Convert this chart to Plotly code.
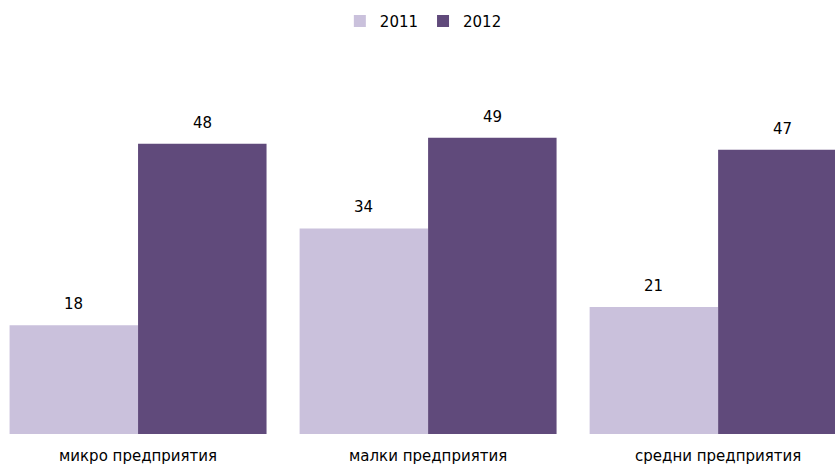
import plotly.graph_objects as go

categories = ["микро предприятия", "малки предприятия", "средни предприятия"]
years = ["2011", "2012"]
values_2011 = [18, 34, 21]
values_2012 = [48, 49, 47]
colors = {"2011": "#CAC1DC", "2012": "#604A7B"}

FONT = "DejaVu Sans"

fig = go.Figure()
for year, vals in zip(years, [values_2011, values_2012]):
    fig.add_trace(go.Bar(
        x=categories, y=vals, name=year,
        marker=dict(color=colors[year], line=dict(width=0)),
    ))

# value labels above each bar
bar_offset = 64.5
for year, vals, shift in zip(years, [values_2011, values_2012], [-bar_offset, bar_offset]):
    for cat, v in zip(categories, vals):
        fig.add_annotation(
            x=cat, y=v, text=str(v), showarrow=False,
            xshift=shift, yshift=10, yanchor="bottom",
            font=dict(family=FONT, size=15, color="#000000"),
        )

fig.update_layout(
    width=835, height=466,
    margin=dict(l=0, r=0, t=50, b=32),
    plot_bgcolor="white", paper_bgcolor="white",
    barmode="group", bargap=0.114, bargroupgap=0,
    font=dict(family=FONT, size=15, color="#000000"),
    legend=dict(
        orientation="h", x=0.507, xanchor="center",
        yref="container", y=0.99, yanchor="top",
        font=dict(family=FONT, size=15),
        itemwidth=30, traceorder="normal",
    ),
    xaxis=dict(
        range=[-0.476, 2.403], showgrid=False, showline=False,
        ticks="outside", ticklen=8, tickcolor="rgba(0,0,0,0)",
        tickfont=dict(family=FONT, size=15), automargin=False,
    ),
    yaxis=dict(range=[0, 63.5], visible=False, showgrid=False),
)

fig.write_html("out.html")
